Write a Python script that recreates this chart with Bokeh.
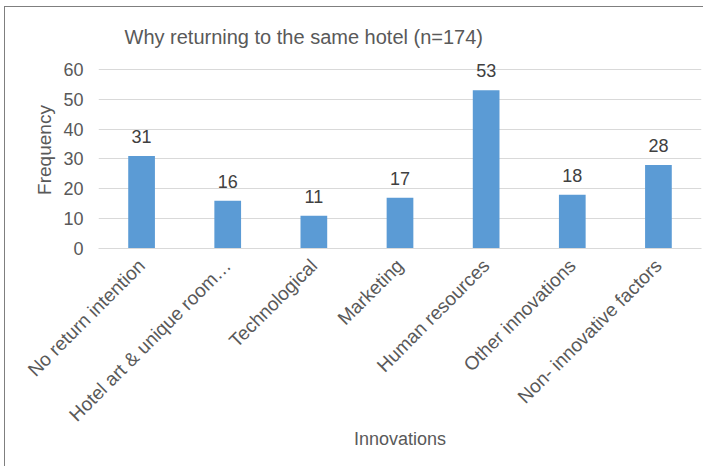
from math import pi
from bokeh.plotting import figure
from bokeh.models import ColumnDataSource, FactorRange, Range1d, FixedTicker
from bokeh.core.properties import value
from bokeh.embed import file_html
from bokeh.resources import INLINE

categories = ["No return intention", "Hotel art & unique room\u2026", "Technological",
              "Marketing", "Human resources", "Other innovations", "Non- innovative factors"]
frequency = [31, 16, 11, 17, 53, 18, 28]
y_ticks = [0, 10, 20, 30, 40, 50, 60]

src = ColumnDataSource(dict(cat=categories, val=frequency, lab=[str(v) for v in frequency]))

p = figure(x_range=FactorRange(*categories, range_padding=0), y_range=Range1d(0, 66),
           width=698, height=452, output_backend="svg", toolbar_location=None,
           min_border_left=93, min_border_right=2, min_border_top=37, min_border_bottom=218)
p.frame_width = 603
p.frame_height = 197

p.vbar(x="cat", top="val", width=0.31, source=src, color="#5B9BD5", line_color=None)
p.text(x="cat", y="val", text="lab", source=src, y_offset=-13, text_align="center",
       text_baseline="bottom", text_font_size="18px", text_color="#404040",
       text_font=value("Liberation Sans"))

p.title.text = "Why returning to the same hotel (n=174)"
p.title.text_font = "Liberation Sans"
p.title.text_font_size = "20px"
p.title.text_font_style = "normal"
p.title.text_color = "#595959"
p.title.offset = 26
p.title.standoff = 8

p.outline_line_color = None
p.xgrid.grid_line_color = None
p.ygrid.grid_line_color = "#d9d9d9"
p.ygrid.grid_line_width = 1

p.yaxis.ticker = FixedTicker(ticks=y_ticks)
p.yaxis.axis_line_color = None
p.yaxis.major_tick_line_color = None
p.yaxis.minor_tick_line_color = None
p.yaxis.major_label_text_font = "Liberation Sans"
p.yaxis.major_label_text_font_size = "18px"
p.yaxis.major_label_text_color = "#595959"
p.yaxis.major_label_standoff = 9
p.yaxis.axis_label = "Frequency"
p.yaxis.axis_label_text_font = "Liberation Sans"
p.yaxis.axis_label_text_font_size = "19px"
p.yaxis.axis_label_text_font_style = "normal"
p.yaxis.axis_label_text_color = "#595959"
p.yaxis.axis_label_standoff = 5

p.xaxis.axis_line_color = "#d9d9d9"
p.xaxis.major_tick_line_color = None
p.xaxis.minor_tick_line_color = None
p.xaxis.major_label_orientation = pi / 4
p.xaxis.major_label_text_font = "Liberation Sans"
p.xaxis.major_label_text_font_size = "19px"
p.xaxis.major_label_text_color = "#595959"
p.xaxis.major_label_standoff = 8
p.xaxis.axis_label = "Innovations"
p.xaxis.axis_label_text_font = "Liberation Sans"
p.xaxis.axis_label_text_font_size = "18px"
p.xaxis.axis_label_text_font_style = "normal"
p.xaxis.axis_label_text_color = "#595959"
p.xaxis.axis_label_standoff = -7

p.styles = {"border-left": "1px solid #7f7f7f", "border-top": "1px solid #7f7f7f",
            "margin-left": "4px", "margin-top": "6px", "padding-top": "7px"}

open("out.html", "w").write(file_html(p, INLINE))
